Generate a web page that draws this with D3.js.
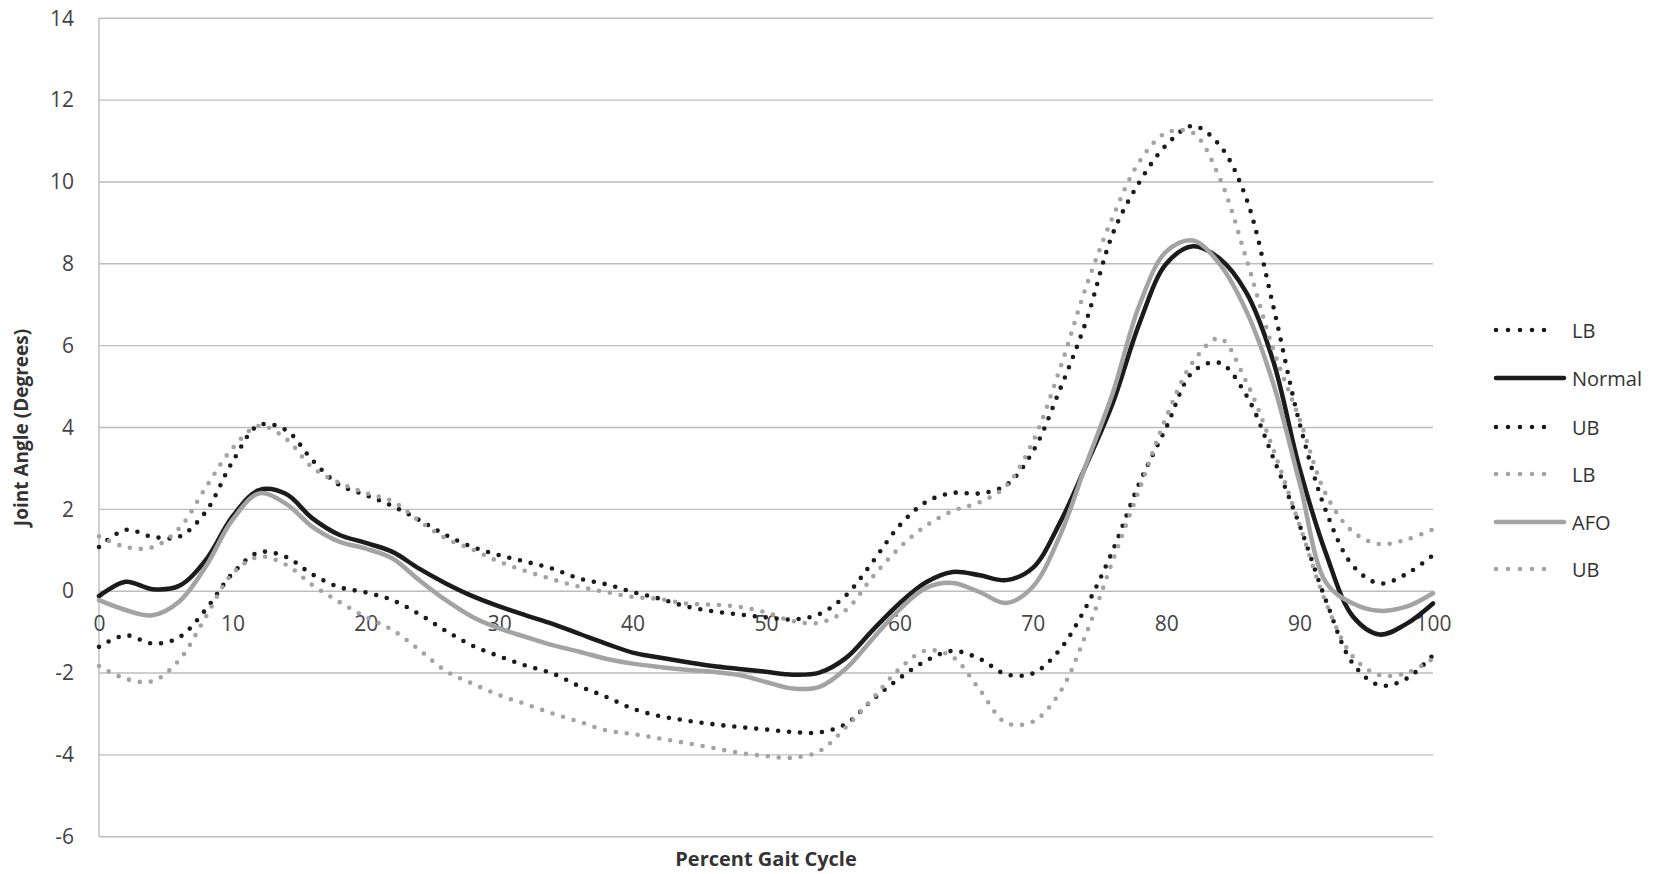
<!DOCTYPE html>
<html>
<head>
<meta charset="utf-8">
<script src="https://cdn.jsdelivr.net/npm/d3@7"></script>
<style>
  body { margin: 0; background: #fff; }
  text { font-family: "Open Sans", "DejaVu Sans", sans-serif; }
</style>
</head>
<body>
<svg id="chart" width="1667" height="874"></svg>
<script>
// Percent of gait cycle (x categories)
const pct = [0, 2, 4, 6, 8, 10, 12, 14, 16, 18, 20, 22, 24, 26, 28, 30, 32, 34, 36, 38, 40,
             42, 44, 46, 48, 50, 52, 54, 56, 58, 60, 62, 64, 66, 68, 70, 72, 74, 76, 78, 80,
             82, 84, 86, 88, 90, 92, 94, 96, 98, 100];

// Joint angle (degrees) for each series
const normalLB = [-1.36, -1.08, -1.28, -1.13, -0.45, 0.43, 0.95, 0.84, 0.41, 0.10, -0.03, -0.22, -0.56, -0.97, -1.33, -1.59, -1.82, -2.01, -2.32, -2.58, -2.87,
                  -3.05, -3.16, -3.25, -3.32, -3.38, -3.44, -3.45, -3.24, -2.65, -2.13, -1.70, -1.46, -1.65, -2.03, -2.01, -1.44, -0.38, 1.00, 2.65, 4.00,
                  5.36, 5.58, 4.79, 3.28, 1.61, -0.25, -1.77, -2.30, -2.14, -1.56];
const normal   = [-0.12, 0.23, 0.05, 0.13, 0.76, 1.82, 2.47, 2.38, 1.78, 1.38, 1.18, 0.96, 0.55, 0.19, -0.12, -0.37, -0.59, -0.80, -1.04, -1.28, -1.50,
                  -1.62, -1.73, -1.83, -1.90, -1.97, -2.04, -1.99, -1.63, -0.95, -0.30, 0.22, 0.47, 0.39, 0.27, 0.57, 1.65, 3.08, 4.60, 6.55, 8.00,
                  8.43, 8.13, 7.30, 5.65, 3.00, 0.90, -0.62, -1.06, -0.80, -0.30];
const normalUB = [1.08, 1.50, 1.33, 1.33, 1.94, 3.16, 4.06, 3.94, 3.20, 2.60, 2.35, 2.08, 1.74, 1.37, 1.08, 0.88, 0.72, 0.55, 0.31, 0.17, -0.02,
                  -0.18, -0.37, -0.49, -0.57, -0.64, -0.69, -0.56, -0.10, 0.72, 1.60, 2.18, 2.40, 2.39, 2.59, 3.41, 4.90, 6.60, 8.74, 10.00, 10.90,
                  11.37, 10.90, 9.60, 7.00, 4.10, 1.94, 0.62, 0.19, 0.42, 0.88];
const afoLB    = [-1.83, -2.14, -2.20, -1.69, -0.63, 0.43, 0.84, 0.65, 0.15, -0.26, -0.63, -0.95, -1.43, -1.95, -2.26, -2.54, -2.76, -2.99, -3.19, -3.40, -3.49,
                  -3.60, -3.71, -3.83, -3.95, -4.03, -4.07, -3.91, -3.32, -2.62, -1.90, -1.45, -1.61, -2.40, -3.22, -3.19, -2.49, -1.04, 0.75, 2.50, 4.25,
                  5.60, 6.18, 5.12, 3.49, 1.61, -0.30, -1.60, -2.05, -2.00, -1.65];
const afo      = [-0.22, -0.46, -0.59, -0.26, 0.60, 1.74, 2.39, 2.14, 1.57, 1.21, 1.04, 0.80, 0.27, -0.22, -0.63, -0.91, -1.12, -1.32, -1.48, -1.65, -1.77,
                  -1.85, -1.92, -1.97, -2.05, -2.22, -2.38, -2.34, -1.89, -1.16, -0.45, 0.08, 0.20, -0.02, -0.29, 0.11, 1.33, 3.10, 4.85, 7.00, 8.30,
                  8.57, 8.00, 6.85, 5.10, 2.65, 0.20, -0.30, -0.48, -0.38, -0.05];
const afoUB    = [1.34, 1.08, 1.07, 1.53, 2.53, 3.49, 4.04, 3.73, 3.02, 2.65, 2.40, 2.20, 1.72, 1.29, 1.02, 0.72, 0.49, 0.29, 0.11, -0.02, -0.14,
                  -0.19, -0.30, -0.33, -0.38, -0.52, -0.73, -0.77, -0.46, 0.35, 1.06, 1.60, 1.96, 2.17, 2.57, 3.65, 5.40, 7.44, 9.15, 10.50, 11.20,
                  11.20, 10.10, 8.13, 5.93, 4.20, 2.35, 1.45, 1.15, 1.26, 1.51];

// Axis ticks
const xTicks = [0, 10, 20, 30, 40, 50, 60, 70, 80, 90, 100];
const yTicks = [-6, -4, -2, 0, 2, 4, 6, 8, 10, 12, 14];

// Legend entries, in drawing order
const seriesNames = ["LB", "Normal", "UB", "LB", "AFO", "UB"];

const BLACK = "#1b1b1b", GREY = "#a3a3a3";
const styles = [
  { color: BLACK, dotted: true },
  { color: BLACK, dotted: false },
  { color: BLACK, dotted: true },
  { color: GREY, dotted: true },
  { color: GREY, dotted: false },
  { color: GREY, dotted: true }
];
const seriesValues = [normalLB, normal, normalUB, afoLB, afo, afoUB];

const svg = d3.select("#chart");
const plot = { left: 99, right: 1433, top: 18.3, bottom: 836.7 };

const x = d3.scaleLinear().domain([0, 100]).range([plot.left, plot.right]);
const y = d3.scaleLinear().domain([-6, 14]).range([plot.bottom, plot.top]);

// Plain hyphen for negative numbers
const fmt = d => String(d);

// Horizontal gridlines
svg.append("g")
  .selectAll("line")
  .data(yTicks)
  .join("line")
  .attr("x1", plot.left).attr("x2", plot.right)
  .attr("y1", d => y(d)).attr("y2", d => y(d))
  .attr("stroke", "#bdbdbd").attr("stroke-width", 1.4);

// Vertical axis line
svg.append("line")
  .attr("x1", plot.left).attr("x2", plot.left)
  .attr("y1", y(14)).attr("y2", y(-6))
  .attr("stroke", "#bdbdbd").attr("stroke-width", 1.4);

// Y axis labels
const yAxis = svg.append("g")
  .attr("transform", `translate(${plot.left},0)`)
  .call(d3.axisLeft(y).tickValues(yTicks).tickSize(0).tickPadding(25).tickFormat(fmt));
yAxis.select(".domain").remove();
yAxis.selectAll("text")
  .attr("font-family", "Open Sans").attr("font-size", 21).attr("fill", "#444");

// X axis labels, placed along the zero line
const xAxis = svg.append("g")
  .attr("transform", `translate(0,${y(0)})`)
  .call(d3.axisBottom(x).tickValues(xTicks).tickSize(0).tickPadding(25).tickFormat(fmt));
xAxis.select(".domain").remove();
xAxis.selectAll("text")
  .attr("font-family", "Open Sans").attr("font-size", 21).attr("fill", "#444");

// Series lines
const line = d3.line()
  .x((d, i) => x(pct[i]))
  .y(d => y(d))
  .curve(d3.curveCatmullRom.alpha(0.5));

function applyStyle(sel, s) {
  sel.attr("fill", "none")
    .attr("stroke", s.color)
    .attr("stroke-linecap", "round")
    .attr("stroke-linejoin", "round");
  if (s.dotted) {
    sel.attr("stroke-width", 4.6).attr("stroke-dasharray", "0 11");
  } else {
    sel.attr("stroke-width", 4.5);
  }
}

seriesValues.forEach((vals, k) => {
  svg.append("path").datum(vals).attr("d", line).call(applyStyle, styles[k]);
});

// Legend
const legendY = [330, 378, 427, 474, 522, 569];
const legend = svg.append("g");
seriesNames.forEach((name, k) => {
  const s = styles[k];
  legend.append("line")
    .attr("x1", 1496).attr("x2", s.dotted ? 1556 : 1564)
    .attr("y1", legendY[k]).attr("y2", legendY[k])
    .call(applyStyle, s)
    .attr("stroke-dasharray", s.dotted ? "0 12" : null);
  legend.append("text")
    .attr("x", 1572).attr("y", legendY[k])
    .attr("dominant-baseline", "central")
    .attr("font-size", 20).attr("fill", "#333")
    .text(name);
});

// Axis titles
svg.append("text")
  .attr("x", (plot.left + plot.right) / 2).attr("y", 866)
  .attr("text-anchor", "middle")
  .attr("font-size", 20).attr("font-weight", "bold").attr("fill", "#333")
  .text("Percent Gait Cycle");

svg.append("text")
  .attr("transform", `translate(28,${(plot.top + plot.bottom) / 2}) rotate(-90)`)
  .attr("text-anchor", "middle")
  .attr("font-size", 19).attr("font-weight", "bold").attr("fill", "#333")
  .text("Joint Angle (Degrees)");
</script>
</body>
</html>
